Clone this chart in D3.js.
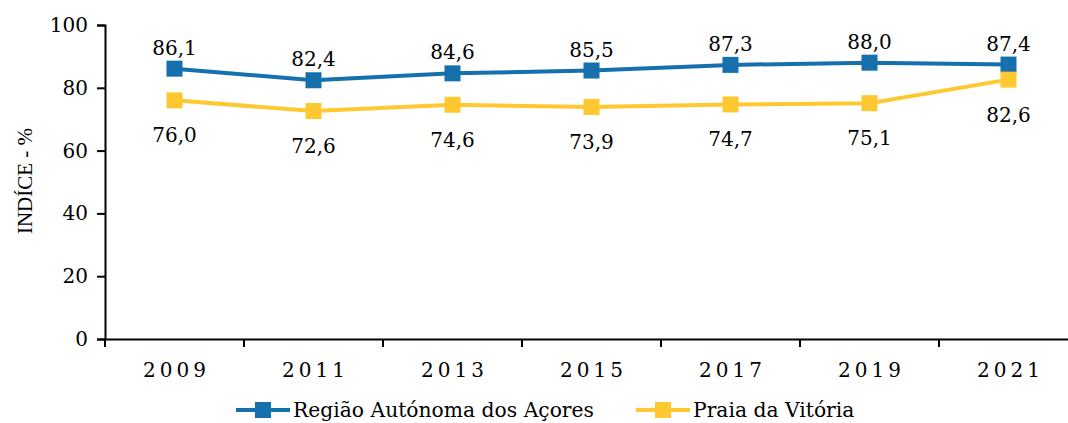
<!DOCTYPE html>
<html>
<head>
<meta charset="utf-8">
<script src="https://cdn.jsdelivr.net/npm/d3@7"></script>
<style>
  body { margin: 0; background: #fff; }
  svg text { font-family: "DejaVu Serif", serif; fill: #000; }
</style>
</head>
<body>
<div id="chart"></div>
<script>
const years = ["2009", "2011", "2013", "2015", "2017", "2019", "2021"];
const acores = [86.1, 82.4, 84.6, 85.5, 87.3, 88.0, 87.4];
const praia = [76.0, 72.6, 74.6, 73.9, 74.7, 75.1, 82.6];
const yTicks = [0, 20, 40, 60, 80, 100];
const seriesNames = ["Região Autónoma dos Açores", "Praia da Vitória"];

const config = {
    width: 1068,
    height: 423,
    left: 105,
    right: 1078,
    top: 25,
    bottom: 339,
    blue: "#1570AD",
    yellow: "#FFC830",
    marker: 16,
    font: "DejaVu Serif",
};

const svg = d3.select("#chart").append("svg")
    .attr("width", config.width)
    .attr("height", config.height);

const x = d3.scaleBand().domain(years).range([config.left, config.right]);
const y = d3.scaleLinear().domain([0, 100]).range([config.bottom, config.top]);
const cx = d => x(d) + x.bandwidth() / 2;
const fmt = d => d.toFixed(1).replace(".", ",");

// y axis
const gy = svg.append("g")
    .attr("transform", `translate(${config.left},0)`)
    .call(d3.axisLeft(y).tickValues(yTicks).tickSize(8).tickPadding(9))
    .attr("font-family", config.font)
    .attr("font-size", 20);
gy.select(".domain").attr("stroke", "#000").attr("stroke-width", 2);
gy.selectAll(".tick line").attr("stroke", "#000").attr("stroke-width", 2);

// x axis
const gx = svg.append("g")
    .attr("transform", `translate(0,${config.bottom})`)
    .call(d3.axisBottom(x).tickSize(0).tickPadding(24))
    .attr("font-family", config.font)
    .attr("font-size", 20);
gx.select(".domain").attr("stroke", "#000").attr("stroke-width", 2);
gx.selectAll(".tick text")
    .style("letter-spacing", "4px")
    .attr("dx", "2px");
// tick marks between categories
gx.selectAll(".sep")
    .data(years.concat(["end"]))
    .join("line")
    .attr("class", "sep")
    .attr("x1", (d, i) => config.left + i * x.bandwidth())
    .attr("x2", (d, i) => config.left + i * x.bandwidth())
    .attr("y1", 0)
    .attr("y2", 8)
    .attr("stroke", "#000")
    .attr("stroke-width", 2);

svg.append("text")
    .attr("transform", "translate(32,181) rotate(-90)")
    .attr("text-anchor", "middle")
    .style("font-family", "Liberation Serif")
    .style("font-size", "21px")
    .text("INDÍCE - %");

const line = d3.line().x((d, i) => cx(years[i])).y(d => y(d));

function drawSeries(values, color) {
    const g = svg.append("g");
    g.append("path")
        .datum(values)
        .attr("d", line)
        .attr("fill", "none")
        .attr("stroke", color)
        .attr("stroke-width", 4);
    g.selectAll("rect")
        .data(values)
        .join("rect")
        .attr("x", (d, i) => cx(years[i]) - config.marker / 2)
        .attr("y", d => y(d) - config.marker / 2)
        .attr("width", config.marker)
        .attr("height", config.marker)
        .attr("fill", color);
}

drawSeries(acores, config.blue);
drawSeries(praia, config.yellow);

svg.append("g").selectAll("text")
    .data(acores)
    .join("text")
    .attr("x", (d, i) => cx(years[i]))
    .attr("y", d => y(d) - 14)
    .attr("text-anchor", "middle")
    .style("font-size", "20px")
    .text(fmt);

svg.append("g").selectAll("text")
    .data(praia)
    .join("text")
    .attr("x", (d, i) => cx(years[i]))
    .attr("y", d => y(d) + 42)
    .attr("text-anchor", "middle")
    .style("font-size", "20px")
    .text(fmt);

// legend
const legend = svg.append("g").attr("transform", "translate(0,410)");
const legendX = [236, 636];
const legendColors = [config.blue, config.yellow];
seriesNames.forEach((name, i) => {
    const lg = legend.append("g").attr("transform", `translate(${legendX[i]},0)`);
    lg.append("line").attr("x1", 0).attr("x2", 54).attr("y1", 0).attr("y2", 0)
        .attr("stroke", legendColors[i]).attr("stroke-width", 4);
    lg.append("rect").attr("x", 27 - 8).attr("y", -8).attr("width", 16).attr("height", 16)
        .attr("fill", legendColors[i]);
    lg.append("text").attr("x", 57).attr("y", 7).style("font-size", "20.3px").text(name);
});
</script>
</body>
</html>
